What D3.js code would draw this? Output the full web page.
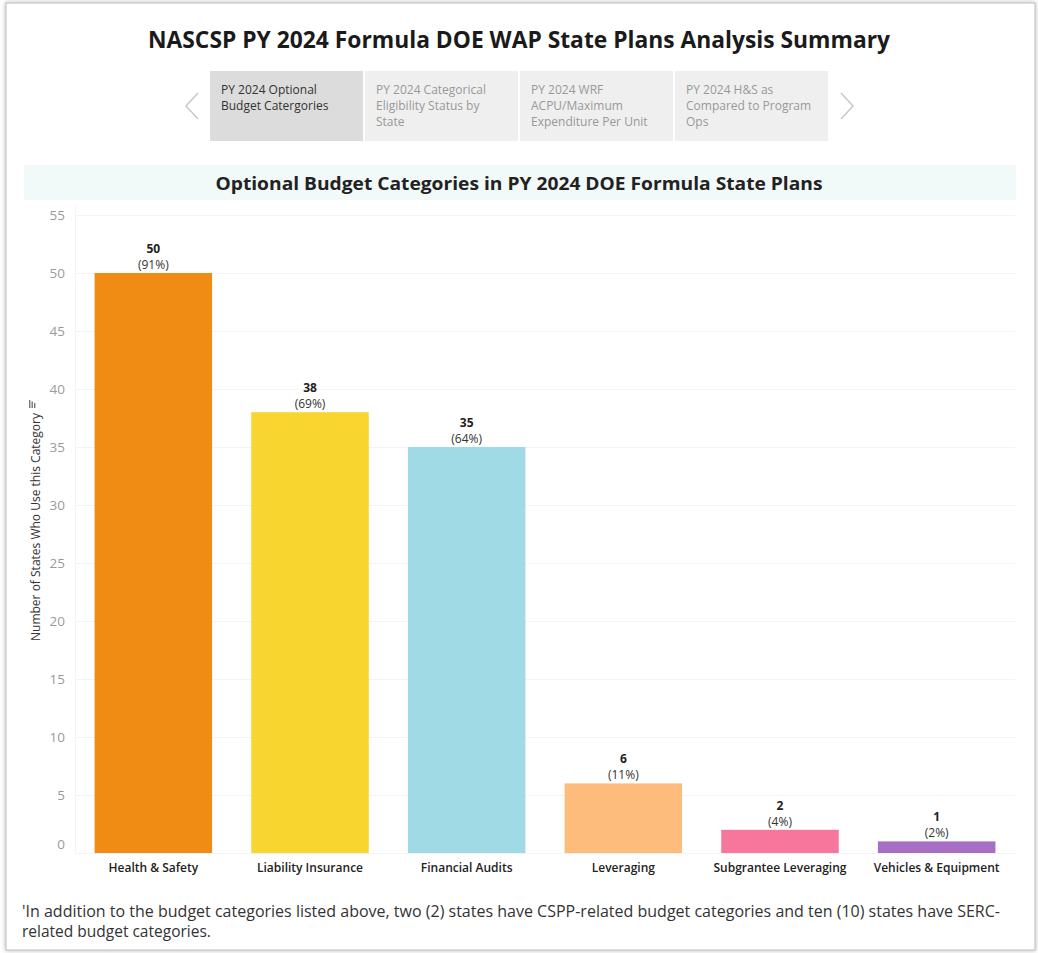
<!DOCTYPE html>
<html>
<head>
<meta charset="utf-8">
<script src="https://cdn.jsdelivr.net/npm/d3@7"></script>
<style>
  body { margin: 0; background: #fff; }
  svg { display: block; font-family: "Open Sans", "Noto Sans", sans-serif; }
</style>
</head>
<body>
<svg id="chart" width="1038" height="953"></svg>
<script>
var categories = ["Health & Safety", "Liability Insurance", "Financial Audits", "Leveraging", "Subgrantee Leveraging", "Vehicles & Equipment"];
var stateCounts = [50, 38, 35, 6, 2, 1];
var percentLabels = ["(91%)", "(69%)", "(64%)", "(11%)", "(4%)", "(2%)"];
var barColors = ["#f08c14", "#f8d62f", "#a0dae4", "#fdbc7b", "#f7779c", "#a66ec4"];
var yTicks = [0, 5, 10, 15, 20, 25, 30, 35, 40, 45, 50, 55];
var tabLabels = [
  ["PY 2024 Optional", "Budget Catergories"],
  ["PY 2024 Categorical", "Eligibility Status by", "State"],
  ["PY 2024 WRF", "ACPU/Maximum", "Expenditure Per Unit"],
  ["PY 2024 H&S as", "Compared to Program", "Ops"]
];
var footLines = [
  "'In addition to the budget categories listed above, two (2) states have CSPP-related budget categories and ten (10) states have SERC-",
  "related budget categories."
];

var svg = d3.select("#chart");

// frame with soft shadow
var defs = svg.append("defs");
var f = defs.append("filter").attr("id", "shadow").attr("x", "-5%").attr("y", "-5%").attr("width", "110%").attr("height", "110%");
f.append("feDropShadow").attr("dx", 0).attr("dy", 0).attr("stdDeviation", 2).attr("flood-color", "#888").attr("flood-opacity", 0.6);

svg.append("rect")
  .attr("x", 6).attr("y", 3).attr("width", 1029).attr("height", 947)
  .attr("fill", "#fff").attr("stroke", "#cfcfcf").attr("stroke-width", 1.5)
  .attr("filter", "url(#shadow)");

// main title
svg.append("text")
  .attr("x", 519).attr("y", 48)
  .attr("text-anchor", "middle")
  .attr("font-size", 24).attr("font-weight", "bold").attr("fill", "#1a1a1a")
  .attr("textLength", 742).attr("lengthAdjust", "spacingAndGlyphs")
  .text("NASCSP PY 2024 Formula DOE WAP State Plans Analysis Summary");

// tab strip
var tabX = [210, 365, 520, 675];
tabLabels.forEach(function(lines, i) {
  var g = svg.append("g").attr("transform", "translate(" + tabX[i] + ",71)");
  g.append("rect").attr("width", 153).attr("height", 70)
    .attr("fill", i === 0 ? "#dcdcdc" : "#efefef");
  lines.forEach(function(l, j) {
    g.append("text")
      .attr("x", 11).attr("y", 23 + j * 16)
      .attr("font-size", 12)
      .attr("fill", i === 0 ? "#333" : "#999")
      .text(l);
  });
});
svg.append("path").attr("d", "M198,93 L186,106 L198,119")
  .attr("fill", "none").attr("stroke", "#c8c8c8").attr("stroke-width", 1.5);
svg.append("path").attr("d", "M841,93 L853,106 L841,119")
  .attr("fill", "none").attr("stroke", "#c8c8c8").attr("stroke-width", 1.5);

// chart title band
svg.append("rect").attr("x", 24).attr("y", 165).attr("width", 992).attr("height", 35)
  .attr("fill", "#f2f9f9");
svg.append("text")
  .attr("x", 519).attr("y", 190)
  .attr("text-anchor", "middle")
  .attr("font-size", 18).attr("font-weight", "bold").attr("fill", "#222")
  .attr("textLength", 607).attr("lengthAdjust", "spacingAndGlyphs")
  .text("Optional Budget Categories in PY 2024 DOE Formula State Plans");

// scales
var x = d3.scaleBand().domain(categories).range([75, 1015]).paddingInner(0.25).paddingOuter(0.125);
var y = d3.scaleLinear().domain([0, 55]).range([853, 215]);

// gridlines
svg.append("g").selectAll("line").data(yTicks).enter().append("line")
  .attr("x1", 75).attr("x2", 1015)
  .attr("y1", function(d) { return y(d) + 0.5; })
  .attr("y2", function(d) { return y(d) + 0.5; })
  .attr("stroke", "#f3f3f3");
svg.append("line").attr("x1", 75.5).attr("x2", 75.5).attr("y1", 205).attr("y2", 853)
  .attr("stroke", "#f4f4f4");

// y axis
var yAxis = svg.append("g").attr("transform", "translate(75,0)")
  .call(d3.axisLeft(y).tickValues(yTicks).tickSize(0).tickPadding(10));
yAxis.select(".domain").remove();
yAxis.selectAll("text").attr("font-size", 13.5).attr("fill", "#9a9a9a")
  .attr("font-family", "\"Open Sans\", sans-serif")
  .attr("dy", function(d) { return d === 0 ? "-0.35em" : "0.32em"; });

svg.append("text")
  .attr("transform", "translate(40,527) rotate(-90)")
  .attr("text-anchor", "middle")
  .attr("font-size", 12).attr("fill", "#333")
  .attr("textLength", 228).attr("lengthAdjust", "spacingAndGlyphs")
  .text("Number of States Who Use this Category");
// small sort icon
[0, 1, 2].forEach(function(i) {
  svg.append("rect").attr("x", 29 + i * 2.5).attr("y", 400 + i * 1.5).attr("width", 1.4).attr("height", 8 - i * 1.5).attr("fill", "#777");
});

// bars
svg.append("g").selectAll("rect").data(categories).enter().append("rect")
  .attr("x", function(d) { return x(d); })
  .attr("width", x.bandwidth())
  .attr("y", function(d, i) { return y(stateCounts[i]); })
  .attr("height", function(d, i) { return y(0) - y(stateCounts[i]); })
  .attr("fill", function(d, i) { return barColors[i]; });

// value labels
var lab = svg.append("g").selectAll("g").data(categories).enter().append("g")
  .attr("transform", function(d, i) {
    return "translate(" + (x(d) + x.bandwidth() / 2) + "," + y(stateCounts[i]) + ")";
  });
lab.append("text").attr("y", -20).attr("text-anchor", "middle")
  .attr("font-size", 12).attr("font-weight", "bold").attr("fill", "#222")
  .text(function(d, i) { return stateCounts[i]; });
lab.append("text").attr("y", -4).attr("text-anchor", "middle")
  .attr("font-size", 12).attr("fill", "#333")
  .text(function(d, i) { return percentLabels[i]; });

// x axis labels
var xAxis = svg.append("g").attr("transform", "translate(0,853)")
  .call(d3.axisBottom(x).tickSize(0).tickPadding(10));
xAxis.select(".domain").remove();
xAxis.selectAll("text").attr("font-size", 12).attr("fill", "#222")
  .attr("font-family", "\"Open Sans\", sans-serif").attr("font-weight", 600);

// footnote
footLines.forEach(function(l, i) {
  var t = svg.append("text")
    .attr("x", 22).attr("y", 917 + i * 20)
    .attr("font-size", 15.5).attr("fill", "#333")
    .text(l);
  if (i === 0) t.attr("textLength", 978).attr("lengthAdjust", "spacingAndGlyphs");
});
</script>
</body>
</html>
